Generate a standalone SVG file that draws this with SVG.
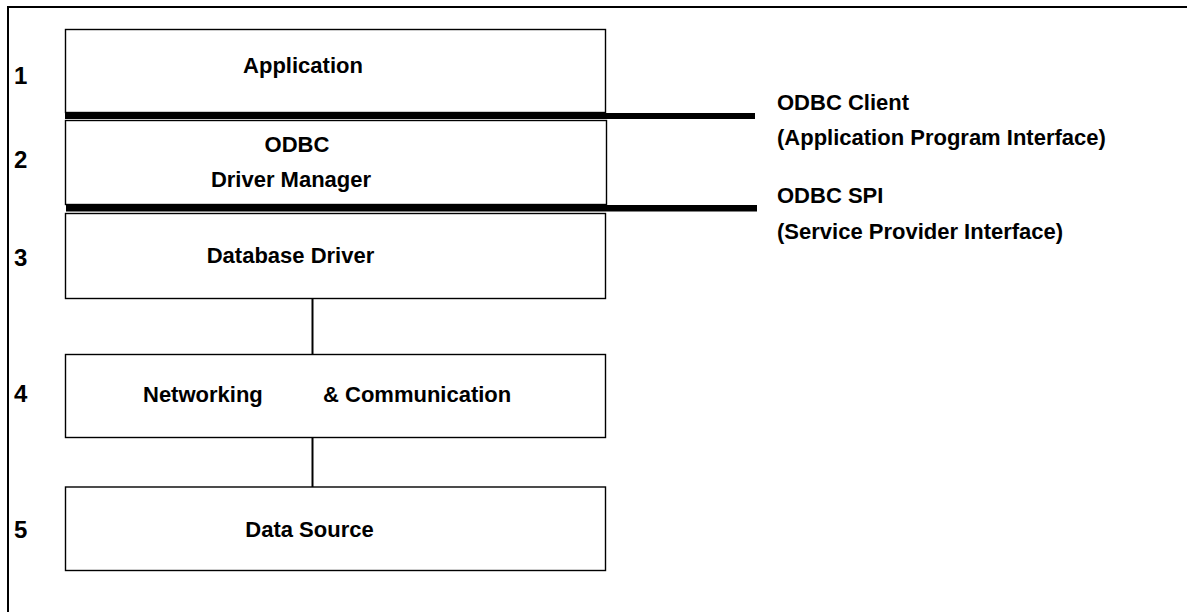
<svg xmlns="http://www.w3.org/2000/svg" width="1187" height="612" viewBox="0 0 1187 612">
  <style>
    .box { fill: #ffffff; stroke: #000000; stroke-width: 1.4; }
    .lbl { font-family: "Liberation Sans", Arial, sans-serif; font-weight: bold; font-size: 22px; fill: #000000; }
    .mid { text-anchor: middle; }
    .num { font-family: "Liberation Sans", Arial, sans-serif; font-weight: bold; font-size: 24px; fill: #000000; }
    .link { stroke: #000000; stroke-width: 2; fill: none; }
    .iface { fill: #000000; }
  </style>

  <rect x="0" y="0" width="1187" height="612" fill="#ffffff"/>

  <!-- outer frame: top and left edges -->
  <path d="M8,612 V7 H1187" fill="none" stroke="#000000" stroke-width="2"/>

  <!-- layer numbers -->
  <g id="layer-numbers">
    <text class="num" x="14" y="84">1</text>
    <text class="num" x="14" y="168">2</text>
    <text class="num" x="14" y="266">3</text>
    <text class="num" x="14" y="402">4</text>
    <text class="num" x="14" y="538">5</text>
  </g>

  <!-- connectors between the lower layers -->
  <g id="connectors">
    <line class="link" x1="312.5" y1="298" x2="312.5" y2="357"/>
    <line class="link" x1="312.5" y1="437" x2="312.5" y2="487"/>
  </g>

  <g id="node-application">
    <rect class="box" x="65.5" y="29.5" width="540" height="83"/>
    <text class="lbl mid" x="303" y="73">Application</text>
  </g>

  <g id="node-driver-manager">
    <rect class="box" x="65.5" y="120.5" width="541" height="84"/>
    <text class="lbl mid" x="297" y="152">ODBC</text>
    <text class="lbl mid" x="291" y="187">Driver Manager</text>
  </g>

  <g id="node-database-driver">
    <rect class="box" x="65.5" y="213.5" width="540" height="85"/>
    <text class="lbl mid" x="290.5" y="263">Database Driver</text>
  </g>

  <g id="node-networking">
    <rect class="box" x="65.5" y="354.5" width="540" height="83"/>
    <text class="lbl" x="143" y="402">Networking</text>
    <text class="lbl" x="323" y="402">&amp; Communication</text>
  </g>

  <g id="node-data-source">
    <rect class="box" x="65.5" y="487" width="540" height="83.5"/>
    <text class="lbl mid" x="309.5" y="537">Data Source</text>
  </g>

  <!-- interface boundaries -->
  <g id="iface-api">
    <rect class="iface" x="65" y="113" width="690" height="6"/>
    <text class="lbl" x="777" y="110">ODBC Client</text>
    <text class="lbl" x="777" y="145">(Application Program Interface)</text>
  </g>

  <g id="iface-spi">
    <rect class="iface" x="66" y="205" width="691" height="6.5"/>
    <text class="lbl" x="777" y="203">ODBC SPI</text>
    <text class="lbl" x="777" y="239">(Service Provider Interface)</text>
  </g>
</svg>
